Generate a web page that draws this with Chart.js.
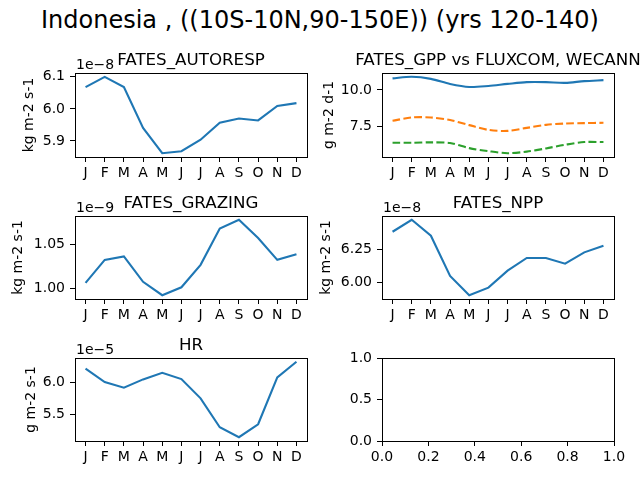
<!DOCTYPE html>
<html>
<head>
<meta charset="utf-8">
<script src="https://cdn.jsdelivr.net/npm/chart.js@4"></script>
<style>
  body { margin: 0; background: #fff; }
  #fig { position: relative; width: 640px; height: 480px; overflow: hidden; }
  #fig canvas { position: absolute; left: 0; top: 0; }
  #suptitle {
    position: absolute; left: 0; top: 8px; width: 640px; text-align: center;
    font: 24px "DejaVu Sans"; line-height: 24px; color: #000; white-space: nowrap;
  }
</style>
</head>
<body>
<div id="fig">
  <div id="suptitle">Indonesia , ((10S-10N,90-150E)) (yrs 120-140)</div>
</div>
<script>
// monthly climatology, values (mantissa, exponent shown separately)
const months = ['J', 'F', 'M', 'A', 'M', 'J', 'J', 'A', 'S', 'O', 'N', 'D'];

const autoresp = [6.068, 6.100, 6.068, 5.941, 5.862, 5.868, 5.904, 5.957, 5.970, 5.964, 6.009, 6.018];
const gppFates = [10.80, 10.91, 10.77, 10.42, 10.21, 10.28, 10.42, 10.54, 10.54, 10.49, 10.61, 10.68];
const gppFluxcom = [7.87, 8.10, 8.10, 7.92, 7.57, 7.24, 7.17, 7.38, 7.59, 7.68, 7.71, 7.73];
const gppWecann = [6.35, 6.35, 6.38, 6.33, 5.98, 5.77, 5.63, 5.74, 5.96, 6.21, 6.40, 6.40];
const grazing = [1.0061, 1.0324, 1.0363, 1.0073, 0.9920, 1.0011, 1.0267, 1.0683, 1.0782, 1.0573, 1.0324, 1.0389];
const npp = [6.380, 6.470, 6.350, 6.048, 5.903, 5.960, 6.088, 6.183, 6.183, 6.140, 6.225, 6.275];
const hr = [6.214, 6.005, 5.917, 6.047, 6.151, 6.052, 5.750, 5.297, 5.141, 5.344, 6.078, 6.323];

const autorespTicks = [5.9, 6.0, 6.1];
const gppTicks = [7.5, 10.0];
const grazingTicks = [1.00, 1.05];
const nppTicks = [6.00, 6.25];
const hrTicks = [5.5, 6.0];
const emptyYTicks = [0.0, 0.5, 1.0];
const emptyXTicks = [0.0, 0.2, 0.4, 0.6, 0.8, 1.0];

const FONT = 'DejaVu Sans';
const BLUE = '#1f77b4', ORANGE = '#ff7f0e', GREEN = '#2ca02c';
const Y_W = 70, X_H = 30;

// draws the axes frame, subplot title and the 1e-N offset text
const mplFrame = {
  id: 'mplFrame',
  afterDraw(chart, args, opts) {
    const { ctx, chartArea: a } = chart;
    ctx.save();
    ctx.strokeStyle = '#000';
    ctx.lineWidth = 1;
    ctx.strokeRect(a.left + 0.5, a.top + 0.5, a.right - a.left, a.bottom - a.top);
    ctx.fillStyle = '#000';
    if (opts.title) {
      ctx.font = '16.7px "' + FONT + '"';
      ctx.textAlign = 'center';
      ctx.textBaseline = 'alphabetic';
      ctx.fillText(opts.title, (a.left + a.right) / 2, a.top - 8);
    }
    if (opts.offset) {
      ctx.font = '14px "' + FONT + '"';
      ctx.textAlign = 'left';
      ctx.textBaseline = 'alphabetic';
      ctx.fillText(opts.offset, a.left + 1, a.top - 4);
    }
    ctx.restore();
  }
};

function autoLimits(series) {
  const all = [].concat(...series);
  const lo = Math.min(...all), hi = Math.max(...all);
  const m = (hi - lo) * 0.05;
  return [lo - m, hi + m];
}

function makePanel(p) {
  const canvas = document.createElement('canvas');
  canvas.width = 640; canvas.height = 480;
  canvas.style.width = '640px'; canvas.style.height = '480px';
  document.getElementById('fig').appendChild(canvas);

  const tickFont = { family: FONT, size: 14 };
  const lh = 14 * 1.2;
  const yTitlePad = p.ylabel ? p.ylabelX - (p.box.l - Y_W) - lh / 2 : 0;
  const [ymin, ymax] = p.series.length ? autoLimits(p.series.map(s => s.data)) : [0, 1];

  const datasets = p.series.map(s => ({
    data: s.data.map((v, i) => ({ x: i, y: v })),
    borderColor: s.color,
    borderWidth: 2.1,
    borderDash: s.dash || [],
    pointRadius: 0,
    fill: false,
    tension: s.tension || 0
  }));

  const xTicks = p.series.length ? months.map((m, i) => i) : emptyXTicks;

  new Chart(canvas, {
    type: 'line',
    data: { datasets },
    plugins: [mplFrame],
    options: {
      responsive: false,
      animation: false,
      events: [],
      layout: {
        padding: {
          left: p.box.l - Y_W,
          top: p.box.t,
          right: 640 - p.box.r,
          bottom: 480 - p.box.b - X_H
        }
      },
      plugins: {
        legend: { display: false },
        tooltip: { enabled: false },
        mplFrame: { title: p.title, offset: p.offset }
      },
      scales: {
        x: {
          type: 'linear',
          min: p.series.length ? -0.55 : 0,
          max: p.series.length ? 11.55 : 1,
          afterBuildTicks: s => { s.ticks = xTicks.map(v => ({ value: v })); },
          afterFit: s => { s.height = X_H; },
          border: { display: false },
          grid: { drawOnChartArea: false, tickLength: 5, color: '#000', lineWidth: 1 },
          ticks: {
            autoSkip: false, maxRotation: 0, padding: 3, color: '#000', font: tickFont,
            callback: (v, i) => p.series.length ? months[i] : v.toFixed(1)
          }
        },
        y: {
          type: 'linear',
          min: ymin,
          max: ymax,
          afterBuildTicks: s => { s.ticks = p.yTicks.map(v => ({ value: v })); },
          afterFit: s => { s.width = Y_W; },
          border: { display: false },
          grid: { drawOnChartArea: false, tickLength: 5, color: '#000', lineWidth: 1 },
          ticks: {
            padding: 5, color: '#000', font: tickFont,
            callback: v => v.toFixed(p.dec)
          },
          title: {
            display: !!p.ylabel,
            text: p.ylabel || '',
            color: '#000',
            font: { family: FONT, size: 14, lineHeight: 1.2 },
            padding: { top: yTitlePad, bottom: 0 }
          }
        }
      }
    }
  });
}

const panels = [
  { title: 'FATES_AUTORESP', offset: '1e\u22128', ylabel: 'kg m-2 s-1', ylabelX: 29.5,
    box: { l: 75, t: 73, r: 307, b: 157 }, yTicks: autorespTicks, dec: 1,
    series: [{ data: autoresp, color: BLUE }] },
  { title: 'FATES_GPP vs FLUXCOM, WECANN', ylabel: 'g m-2 d-1', ylabelX: 329,
    box: { l: 382, t: 73, r: 614, b: 157 }, yTicks: gppTicks, dec: 1,
    series: [
      { data: gppFates, color: BLUE, tension: 0.3 },
      { data: gppFluxcom, color: ORANGE, dash: [7.7, 3.3], tension: 0.3 },
      { data: gppWecann, color: GREEN, dash: [7.7, 3.3], tension: 0.3 }
    ] },
  { title: 'FATES_GRAZING', offset: '1e\u22129', ylabel: 'kg m-2 s-1', ylabelX: 18,
    box: { l: 75, t: 216, r: 307, b: 299 }, yTicks: grazingTicks, dec: 2,
    series: [{ data: grazing, color: BLUE }] },
  { title: 'FATES_NPP', offset: '1e\u22128', ylabel: 'kg m-2 s-1', ylabelX: 326.5,
    box: { l: 382, t: 216, r: 614, b: 299 }, yTicks: nppTicks, dec: 2,
    series: [{ data: npp, color: BLUE }] },
  { title: 'HR', offset: '1e\u22125', ylabel: 'g m-2 s-1', ylabelX: 31.5,
    box: { l: 75, t: 358, r: 307, b: 441 }, yTicks: hrTicks, dec: 1,
    series: [{ data: hr, color: BLUE }] },
  { title: '', ylabel: '',
    box: { l: 382, t: 358, r: 614, b: 441 }, yTicks: emptyYTicks, dec: 1,
    series: [] }
];

panels.forEach(makePanel);
</script>
</body>
</html>
